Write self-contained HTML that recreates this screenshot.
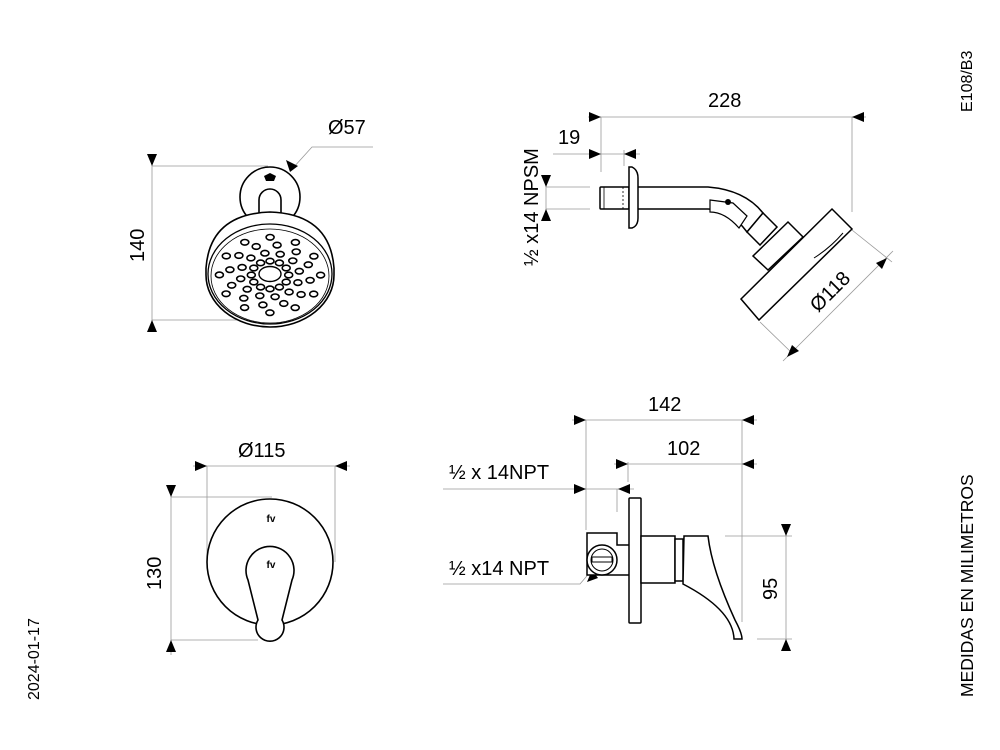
<!DOCTYPE html>
<html><head><meta charset="utf-8"><style>
html,body{margin:0;padding:0;background:#fff;width:1000px;height:750px;overflow:hidden}
svg{display:block}
text{font-family:"Liberation Sans",sans-serif;fill:#000}
</style></head><body>
<svg id="s" width="1000" height="750" viewBox="0 0 1000 750" xmlns="http://www.w3.org/2000/svg">
<g fill="none" stroke="#999" stroke-width="0.8">
 <line x1="152" y1="155" x2="152" y2="332"/>
 <line x1="152" y1="166" x2="268" y2="166"/>
 <line x1="152" y1="320" x2="282" y2="320"/>
 <polyline points="373,147 312,147 293,168"/>
 <line x1="588" y1="117" x2="866" y2="117"/>
 <line x1="601" y1="117" x2="601" y2="172"/>
 <line x1="852" y1="117" x2="852" y2="212"/>
 <line x1="553" y1="154" x2="640" y2="154"/>
 <line x1="624" y1="150" x2="624" y2="166"/>
 <line x1="546" y1="177" x2="546" y2="220"/>
 <line x1="546" y1="187" x2="590" y2="187"/>
 <line x1="546" y1="209" x2="590" y2="209"/>
 <line x1="783" y1="361" x2="893" y2="251"/>
 <line x1="852" y1="230" x2="892" y2="262"/>
 <line x1="760" y1="322" x2="793" y2="354"/>
 <line x1="193" y1="466" x2="350" y2="466"/>
 <line x1="207" y1="466" x2="207" y2="562"/>
 <line x1="335" y1="466" x2="335" y2="562"/>
 <line x1="171" y1="486" x2="171" y2="655"/>
 <line x1="171" y1="497" x2="272" y2="497"/>
 <line x1="171" y1="640" x2="258" y2="640"/>
 <line x1="572" y1="420" x2="757" y2="420"/>
 <line x1="586" y1="420" x2="586" y2="530"/>
 <line x1="742" y1="420" x2="742" y2="622"/>
 <line x1="614" y1="464" x2="757" y2="464"/>
 <line x1="628" y1="462" x2="628" y2="482"/>
 <line x1="443" y1="489" x2="634" y2="489"/>
 <line x1="617" y1="489" x2="617" y2="512"/>
 <polyline points="443,584 580,584 592,570"/>
 <line x1="786" y1="524" x2="786" y2="650"/>
 <line x1="725" y1="536" x2="792" y2="536"/>
 <line x1="757" y1="639" x2="792" y2="639"/>
</g>
<g id="arr" fill="#000"></g>

<g fill="#fff" stroke="#000" stroke-width="1.6">
 <circle cx="270" cy="197" r="30"/>
 <path d="M259,218 L259,200 A11,11 0 0 1 281,200 L281,218" />
 <path d="M206,268 Q210,214 270,212 Q330,214 334,268 L334,275 A64,52 0 0 1 206,275Z"/>
 <ellipse cx="270" cy="274" rx="62" ry="50" stroke-width="1.3"/>
 <ellipse cx="270" cy="276" rx="59" ry="47" stroke-width="0.8"/>
 <ellipse cx="270" cy="274" rx="11" ry="7.5" stroke-width="1.4"/>
</g>
<path d="M264,176 l6,-3 l6,3 l-2,5 h-8z" fill="#000"/>
<g id="dots" fill="#fff" stroke="#000" stroke-width="1.6"></g>

<g fill="#fff" stroke="#000" stroke-width="1.5">
 <path d="M638,187 L708,187 Q745,190 763,213 L747,232 Q730,209 708,209 L638,209"/>
 <path d="M710,200 L733,203 L747,216 L739,228 Q725,212 710,212Z" stroke-width="1.2"/>
 <rect x="600" y="187" width="29" height="22" rx="1"/>
 <line x1="604" y1="187" x2="604" y2="209" stroke-width="0.8"/>
 <line x1="623" y1="187" x2="623" y2="209" stroke-dasharray="2,2" stroke-width="0.8"/>
 <path d="M629,167 L632,167 Q638,170 638,178 L638,218 Q638,226 632,228 L629,228Z"/>
 <polygon points="747,232 763,213 777,227 760,245"/>
 <polygon points="753,256 788,222 803,237 768,270"/>
 <polygon points="741,299 832,209 852,229 759,320"/>
 <path d="M814,258 Q830,248 843,233" stroke-width="1"/>
</g>
<circle cx="728" cy="202" r="3" fill="#000"/>

<g fill="#fff" stroke="#000" stroke-width="1.6">
 <circle cx="270" cy="562" r="63"/>
 <path d="M258,620 L248,580 A24,24 0 1 1 292,580 L282,620 A14,14 0 1 1 258,620Z"/>
</g>
<g font-size="10" text-anchor="middle" font-weight="bold">
 <text x="271" y="522">fv</text><text x="271" y="568">fv</text>
</g>

<g fill="#fff" stroke="#000" stroke-width="1.5">
 <path d="M587,533 L617,533 L617,545 L630,545 L630,575 L587,575Z"/>
 <rect x="629" y="498" width="12" height="125" rx="1"/>
 <rect x="641" y="536" width="34" height="47"/>
 <rect x="675" y="539" width="8" height="42"/>
 <path d="M684,536 L708,536 Q712,570 735,620 Q742,633 742,639 L734,639 Q733,610 683,584 Z"/>
 <circle cx="602" cy="560" r="15"/>
 <circle cx="602" cy="560" r="11" stroke-width="1"/>
 <rect x="592" y="557" width="20" height="5" stroke-width="1"/>
</g>

<g font-size="20">
 <text x="328" y="134">Ø57</text>
 <text x="708" y="107">228</text>
 <text x="558" y="144">19</text>
 <text x="238" y="457">Ø115</text>
 <text x="648" y="411">142</text>
 <text x="667" y="455">102</text>
 <text x="449" y="479">½ x 14NPT</text>
 <text x="449" y="575">½ x14 NPT</text>
 <text transform="translate(144,262) rotate(-90)">140</text>
 <text transform="translate(161,590) rotate(-90)">130</text>
 <text transform="translate(777,600) rotate(-90)">95</text>
 <text transform="translate(538,266) rotate(-90)">½ x14 NPSM</text>
 <text transform="translate(818,313) rotate(-45)">Ø118</text>
</g>
<text transform="translate(972,112) rotate(-90)" font-size="16">E108/B3</text>
<text transform="translate(973,697) rotate(-90)" font-size="17.5">MEDIDAS EN MILIMETROS</text>
<text transform="translate(39,700) rotate(-90)" font-size="16">2024-01-17</text>
</svg>
<script>
var NS="http://www.w3.org/2000/svg";
function poly(g,pts){var p=document.createElementNS(NS,"polygon");p.setAttribute("points",pts);g.appendChild(p);}
var a=document.getElementById("arr");
function R(x,y){poly(a,(x-12)+","+(y-5)+" "+x+","+y+" "+(x-12)+","+(y+5));}
function L(x,y){poly(a,(x+12)+","+(y-5)+" "+x+","+y+" "+(x+12)+","+(y+5));}
function D(x,y){poly(a,(x-5)+","+(y-12)+" "+x+","+y+" "+(x+5)+","+(y-12));}
function U(x,y){poly(a,(x-5)+","+(y+12)+" "+x+","+y+" "+(x+5)+","+(y+12));}
D(152,166);U(152,320);
R(601,117);L(852,117);R(601,154);L(624,154);D(546,187);U(546,209);
D(171,497);U(171,640);R(207,466);L(335,466);
R(586,420);L(742,420);R(628,464);L(742,464);R(586,489);L(618,489);
D(786,536);U(786,639);
poly(a,"290,172 286,160 298,166");
poly(a,"887,258 876,263 882,269");
poly(a,"787,357 792,345 799,351");
poly(a,"592,570 587,582 598,578");
var d=document.getElementById("dots");
for(var k=0;k<12;k++){for(var j=0;j<4;j++){
 var r=[0.34,0.54,0.74,0.92][j];var ang=k*Math.PI/6+j*0.35;
 var e=document.createElementNS(NS,"ellipse");
 e.setAttribute("cx",(270+55*r*Math.cos(ang)).toFixed(1));
 e.setAttribute("cy",(275+41*r*Math.sin(ang)).toFixed(1));
 e.setAttribute("rx","4");e.setAttribute("ry","2.8");d.appendChild(e);}}
</script>
</body></html>
